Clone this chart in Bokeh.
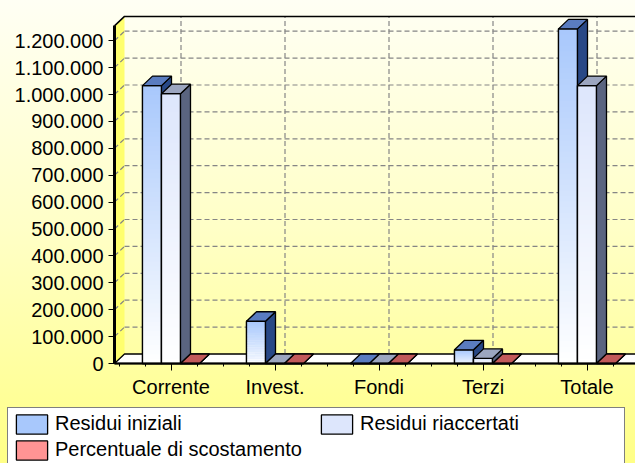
import numpy as np
from bokeh.plotting import figure
from bokeh.models import Range1d, FixedTicker, Legend, LegendItem, ColumnDataSource
from bokeh.embed import file_html
from bokeh.resources import INLINE

# ---------------- data ----------------
categories = ["Corrente", "Invest.", "Fondi", "Terzi", "Totale"]
residui_iniziali = [1033000, 157000, 0, 51000, 1244000]
residui_riaccertati = [1003000, 0, 0, 19000, 1033000]
percentuale_scostamento = [0, 0, 0, 0, 0]
series_names = ["Residui iniziali", "Residui riaccertati", "Percentuale di scostamento"]
y_ticks = [0, 100000, 200000, 300000, 400000, 500000, 600000,
           700000, 800000, 900000, 1000000, 1100000, 1200000]

# ---------------- layout constants (canvas pixels) ----------------
W, H = 635, 463
PX_CAT = 104.0               # px per category
PX_Y = 26.9 / 100000.0       # px per value unit
X0_PX = 118.5                # canvas x of category axis origin
Y0_PX = 363.0                # canvas y of value 0
X_START = (0 - X0_PX) / PX_CAT
X_END = (W - X0_PX) / PX_CAT
Y_END = Y0_PX / PX_Y
Y_START = -(H - Y0_PX) / PX_Y
DX = 10 / PX_CAT
DY = 9.5 / PX_Y
WALL_TOP = 1255000
XL = (114 - X0_PX) / PX_CAT
XR = 5.06
BW = 19 / PX_CAT
FONT = "Liberation Sans"

p = figure(width=W, height=H, x_range=Range1d(X_START, X_END), y_range=Range1d(Y_START, Y_END),
           output_backend="svg", toolbar_location=None,
           min_border_left=0, min_border_right=0, min_border_top=0, min_border_bottom=0,
           border_fill_color=None, background_fill_color=None, outline_line_color=None)
p.styles = {"background": "linear-gradient(180deg, #fffff4 0%, #ffffc6 50%, #ffff86 100%)"}
p.xgrid.visible = False
p.ygrid.visible = False

# ---------------- 3D box ----------------
p.patch([XL, XL, XL + DX, XL + DX], [0, WALL_TOP, WALL_TOP + DY, DY],
        fill_color="#ffff6e", line_color=None)
p.patch([XL, XR, XR + DX, XL + DX], [0, 0, DY, DY],
        fill_color="white", line_color="black", line_width=1.3)

grid_style = dict(line_color="#858585", line_width=1.2, line_dash="5 3")
gv = y_ticks[1:]
p.multi_line([[XL + DX, XR + DX] for _ in gv], [[v + DY, v + DY] for v in gv], **grid_style)
p.multi_line([[XL, XL + DX] for _ in gv], [[v, v + DY] for v in gv], **grid_style)
centers = [i + 0.5 for i in range(len(categories))]
p.multi_line([[c + DX, c + DX] for c in centers], [[DY, WALL_TOP + DY] for _ in centers], **grid_style)
p.line([XL, XL + DX, XR + DX], [WALL_TOP, WALL_TOP + DY, WALL_TOP + DY],
       line_color="black", line_width=1.5)


def hex2rgb(h):
    h = h.lstrip("#")
    return [int(h[i:i + 2], 16) for i in (0, 2, 4)]


def mix(c1, c2, t):
    a, b = hex2rgb(c1), hex2rgb(c2)
    return "#%02x%02x%02x" % tuple(int(round(a[i] + (b[i] - a[i]) * t)) for i in range(3))


series_vals = [residui_iniziali, residui_riaccertati, percentuale_scostamento]
front_cols = ["#a8c8fc", "#dde6fc", "#ff9494"]
top_cols = ["#5a7cc0", "#9ca6c0", "#c25a5a"]
side_cols = ["#284886", "#5a6480", "#883636"]
N = 60
legend_items = []
for s, vals in enumerate(series_vals):
    left = [i + 0.5 - 1.5 * BW + s * BW for i in range(len(categories))]
    right = [l + BW for l in left]
    base = p.quad(left=left, right=right, bottom=0, top=vals,
                  fill_color=front_cols[s], line_color="black", line_width=1.3)
    legend_items.append(LegendItem(label=series_names[s], renderers=[base]))
    sl, sr, sb, st, sc = [], [], [], [], []
    for l, r, v in zip(left, right, vals):
        if v <= 0:
            continue
        for j in range(N):
            sl.append(l); sr.append(r)
            sb.append(v * j / N); st.append(min(v, v * (j + 1.4) / N))
            sc.append(mix("#ffffff", front_cols[s], (j + 0.5) / N))
    src = ColumnDataSource(dict(l=sl, r=sr, b=sb, t=st, c=sc))
    p.quad(left="l", right="r", bottom="b", top="t", fill_color="c", line_color=None, source=src)
    p.quad(left=left, right=right, bottom=0, top=vals,
           fill_color=None, line_color="black", line_width=1.3)
    p.patches([[r, r + DX, r + DX, r] for r in right],
              [[0, DY, v + DY, v] for v in vals],
              fill_color=side_cols[s], line_color="black", line_width=1.3)
    p.patches([[l, r, r + DX, l + DX] for l, r in zip(left, right)],
              [[v, v, v + DY, v + DY] for v in vals],
              fill_color=top_cols[s], line_color="black", line_width=1.3)

# ---------------- axes ----------------
ya = p.yaxis[0]
ya.fixed_location = XL
ya.ticker = FixedTicker(ticks=y_ticks)
ya.major_label_overrides = {v: f"{v:,}".replace(",", ".") for v in y_ticks}
ya.bounds = (0, WALL_TOP)
ya.axis_line_width = 3
ya.axis_line_color = "black"
ya.major_tick_out = 6
ya.major_tick_in = 0
ya.major_tick_line_color = "black"
ya.minor_tick_line_color = None
ya.major_label_standoff = 5
ya.major_label_text_font = FONT
ya.major_label_text_font_size = "20px"
ya.major_label_text_color = "black"

xa = p.xaxis[0]
xa.fixed_location = 0
minor = [k * 0.25 for k in range(0, 21) if (k % 4) != 2]
xa.ticker = FixedTicker(ticks=centers, minor_ticks=minor)
xa.major_label_overrides = {c: n for c, n in zip(centers, categories)}
xa.bounds = (XL, XR)
xa.axis_line_width = 2
xa.axis_line_color = "black"
xa.major_tick_out = 7
xa.major_tick_in = 0
xa.minor_tick_out = 3
xa.minor_tick_in = 0
xa.major_tick_line_color = "black"
xa.minor_tick_line_color = "black"
xa.major_label_standoff = 5
xa.major_label_text_font = FONT
xa.major_label_text_font_size = "20px"
xa.major_label_text_color = "black"

# ---------------- legend ----------------
legend = Legend(items=legend_items, orientation="horizontal", ncols=2,
                location=(7, H - 466.5), margin=0, padding=4, spacing=2,
                glyph_width=39, glyph_height=24, label_width=260, label_height=20,
                label_standoff=4, label_text_font=FONT, label_text_font_size="20px",
                label_text_color="black", border_line_color="black", border_line_width=1,
                background_fill_color="white", background_fill_alpha=1.0)
p.add_layout(legend)

open("out.html", "w").write(file_html(p, INLINE))
